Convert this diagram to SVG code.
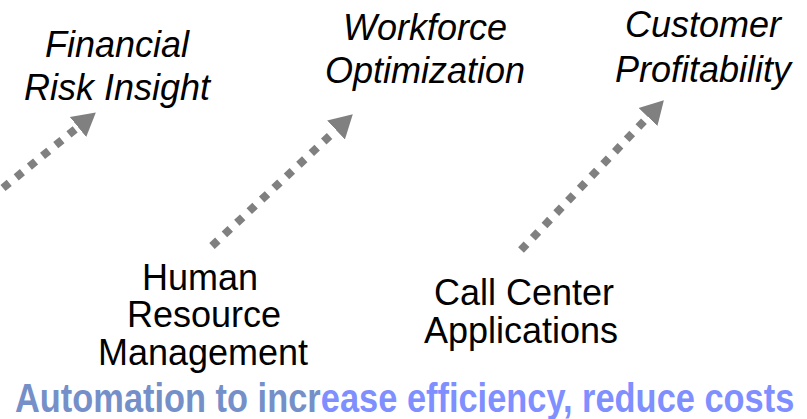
<svg xmlns="http://www.w3.org/2000/svg" width="807" height="419" viewBox="0 0 807 419">
  <defs>
    <style>
      .t { font-family: "Liberation Sans", Arial, sans-serif; font-size: 36px; fill: #000; text-anchor: middle; }
      .it { font-style: italic; }
      .conn { stroke: #808080; stroke-width: 8; stroke-dasharray: 8 9; fill: none; }
      .banner { font-family: "Liberation Sans", Arial, sans-serif; font-weight: bold; font-size: 40px; }
    </style>
    <marker id="ah" markerUnits="userSpaceOnUse" markerWidth="30" markerHeight="30" refX="0" refY="0" viewBox="0 -15 30 30" orient="auto">
      <path d="M0,-13 L23,0 L0,13 z" fill="#808080"/>
    </marker>
  </defs>
  <rect width="807" height="419" fill="#fff"/>
  <g id="connectors">
    <line class="conn" x1="3" y1="188" x2="78" y2="127" marker-end="url(#ah)"/>
    <line class="conn" x1="212" y1="246" x2="336" y2="130" marker-end="url(#ah)"/>
    <line class="conn" x1="521" y1="250" x2="648" y2="117" marker-end="url(#ah)"/>
  </g>
  <g id="financial-risk-insight">
    <text class="t it" x="117" y="57">Financial</text>
    <text class="t it" x="117" y="100">Risk Insight</text>
  </g>
  <g id="workforce-optimization">
    <text class="t it" x="425" y="40">Workforce</text>
    <text class="t it" x="425" y="83">Optimization</text>
  </g>
  <g id="customer-profitability">
    <text class="t it" x="703" y="37">Customer</text>
    <text class="t it" x="703" y="82">Profitability</text>
  </g>
  <g id="human-resource-management">
    <text class="t" x="200" y="290">Human</text>
    <text class="t" x="204" y="327">Resource</text>
    <text class="t" x="203" y="365">Management</text>
  </g>
  <g id="call-center-applications">
    <text class="t" x="524" y="305">Call Center</text>
    <text class="t" x="521" y="343">Applications</text>
  </g>
  <g id="banner" transform="translate(15,412) scale(0.86,1)">
    <text class="banner" x="0" y="0" fill="#7590C9">Automation to incr</text>
    <text class="banner" x="355.6" y="0" fill="#7F8FFF">ease efficiency, reduce costs</text>
  </g>
</svg>
